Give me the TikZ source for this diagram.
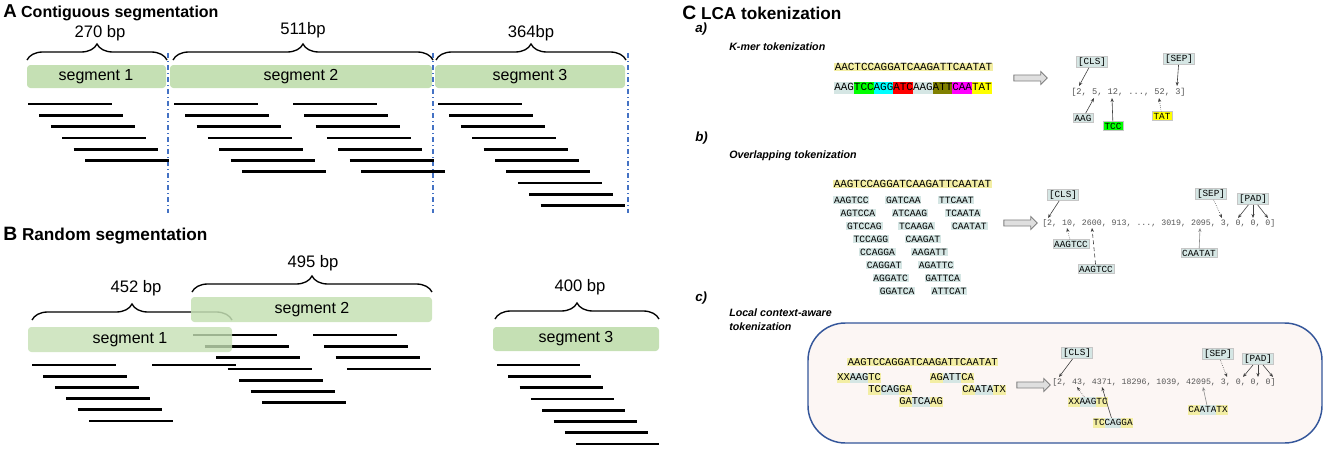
\documentclass[tikz,border=0pt]{standalone}
\usepackage{fontspec}
\setmainfont{Liberation Sans}
\setmonofont{Liberation Mono}
\usepackage{xcolor}
\usetikzlibrary{decorations.pathreplacing}
\usetikzlibrary{shapes.arrows}
\usetikzlibrary{arrows.meta}
\definecolor{seggreen}{HTML}{C5E0B4}
\definecolor{cutblue}{HTML}{4472C4}
\definecolor{tokgrey}{HTML}{D5E6E4}
\definecolor{seqyellow}{HTML}{F3EEA4}
\definecolor{kgreen}{HTML}{00FF00}
\definecolor{kcyan}{HTML}{00FFFF}
\definecolor{kred}{HTML}{FF0000}
\definecolor{kolive}{HTML}{808000}
\definecolor{kmagenta}{HTML}{FF00FF}
\definecolor{kyellow}{HTML}{FFFF00}
\definecolor{boxpink}{HTML}{FCF6F4}
\definecolor{boxblue}{HTML}{34569A}
\definecolor{numgrey}{HTML}{555555}
\newcommand{\hl}[2]{{\setlength{\fboxsep}{0pt}\colorbox{#1}{\rule[-0.27em]{0pt}{1.02em}#2}}}
\newcommand{\ctx}[3]{\hl{seqyellow}{#1}\hl{tokgrey}{#2}\hl{seqyellow}{#3}}
\tikzset{
 paneltitle/.style={font=\bfseries\fontsize{12}{14}\selectfont, anchor=west, inner sep=0pt},
 segbar/.style={fill=seggreen, rounded corners=2.5pt},
 seglabel/.style={font=\fontsize{12}{14}\selectfont},
 bplen/.style={font=\fontsize{12.5}{14}\selectfont},
 segbrace/.style={decorate, decoration={brace, amplitude=12pt}, line width=1pt},
 cutline/.style={cutblue, line width=1pt, dash pattern=on 4pt off 2pt on 1pt off 2pt},
 readline/.style={line width=2pt},
 sublabel/.style={font=\bfseries\itshape\fontsize{8}{10}\selectfont, anchor=west, inner sep=0pt},
 subletter/.style={font=\bfseries\itshape\fontsize{10}{12}\selectfont, anchor=west, inner sep=0pt},
 seqstrip/.style={font=\ttfamily\fontsize{8.2}{9}\selectfont, fill=seqyellow, inner sep=0.4pt, anchor=west},
 seqrow/.style={font=\ttfamily\fontsize{8.2}{9}\selectfont, inner sep=0pt, anchor=west},
 kmer/.style={font=\ttfamily\fontsize{7.2}{8}\selectfont, fill=tokgrey, inner sep=0.6pt, anchor=west},
 ctxtok/.style={font=\ttfamily\fontsize{7.8}{9}\selectfont, inner sep=0pt, anchor=west},
 tokbox/.style={font=\ttfamily\fontsize{7}{8}\selectfont, fill=tokgrey, draw=gray!45, line width=0.3pt, inner sep=1pt},
 ctxbox/.style={font=\ttfamily\fontsize{7}{8}\selectfont, inner sep=0pt},
 ids/.style={font=\ttfamily\fontsize{6.2}{8}\selectfont, text=numgrey, inner sep=0pt, anchor=west},
 toarrow/.style={single arrow, draw=gray, fill=gray!25, line width=0.6pt, minimum height=25pt, single arrow head extend=2.5pt, inner sep=2pt},
 ptr/.style={-{Stealth[length=3pt, width=2.4pt]}, line width=0.45pt, black!75},
 lcabox/.style={draw=boxblue, fill=boxpink, line width=1.1pt, rounded corners=28pt},
}

\begin{document}
\begin{tikzpicture}[x=0.75pt, y=-0.75pt]
\useasboundingbox (0, 0) rectangle (1325, 450);

% A: contiguous segmentation
\node [paneltitle] (titleA) at (3, 13) {{\fontsize{14}{14}\selectfont A} Contiguous segmentation};
\draw [segbrace] (27, 60) -- (167, 60);
\draw [segbrace] (173, 60) -- (433, 60);
\draw [segbrace] (436, 60) -- (626, 60);
\node [bplen] (lenA1) at (100, 33) {270 bp};
\node [bplen] (lenA2) at (303, 30) {511bp};
\node [bplen] (lenA3) at (531, 33) {364bp};
\path [segbar] (27, 65) rectangle (166, 88);
\path [segbar] (170, 65) rectangle (432, 88);
\path [segbar] (435, 65) rectangle (625, 88);
\node [seglabel] (segA1) at (96, 76.5) {segment 1};
\node [seglabel] (segA2) at (301, 76.5) {segment 2};
\node [seglabel] (segA3) at (530, 76.5) {segment 3};
\draw [cutline] (168, 53) -- (168, 213);
\draw [cutline] (433, 53) -- (433, 213);
\draw [cutline] (628, 53) -- (628, 213);
\foreach \i in {0,...,5}
    \draw [readline] ({28 + 11.4*\i}, {104 + 11.3*\i}) -- ++(84, 0);
\foreach \i in {0,...,6} {
    \draw [readline] ({174 + 11.3*\i}, {104 + 11.3*\i}) -- ++(84, 0);
    \draw [readline] ({293 + 11.3*\i}, {104 + 11.3*\i}) -- ++(84, 0);
}
\foreach \i in {0,...,9}
    \draw [readline] ({438 + 11.4*\i}, {104 + 11.3*\i}) -- ++(84, 0);

% B: random segmentation
\node [paneltitle, font=\bfseries\fontsize{12.9}{14}\selectfont] (titleB) at (3, 236) {{\fontsize{14.5}{14}\selectfont B} Random segmentation};
\draw [segbrace] (32, 320) -- (232, 320);
\draw [segbrace] (192, 292) -- (432, 292);
\draw [segbrace] (495, 319) -- (659, 319);
\node [bplen] (lenB1) at (136, 288) {452 bp};
\node [bplen] (lenB2) at (313, 263) {495 bp};
\node [bplen] (lenB3) at (580, 287) {400 bp};
\path [segbar, fill opacity=0.85] (191, 297) rectangle (432, 322);
\foreach \i in {0,...,5}
    \draw [readline] ({32 + 11.4*\i}, {365 + 11.2*\i}) -- ++(84, 0);
\draw [readline] (152, 365) -- (236, 365);
\foreach \i in {0,...,6}
    \draw [readline] ({193 + 11.5*\i}, {335 + 11.3*\i}) -- ++(84, 0);
\foreach \i in {0,...,3}
    \draw [readline] ({313 + 11.3*\i}, {335 + 11.3*\i}) -- ++(84, 0);
\foreach \i in {0,...,7}
    \draw [readline] ({497 + 11.3*\i}, {365 + 11.3*\i}) -- ++(83, 0);
\path [segbar, fill opacity=0.8] (28, 327) rectangle (232, 352);
\path [segbar] (493, 327) rectangle (659, 351);
\node [seglabel] (segB1) at (130, 339.5) {segment 1};
\node [seglabel] (segB2) at (312, 309.5) {segment 2};
\node [seglabel] (segB3) at (576, 339) {segment 3};

% C: LCA tokenization
\node [paneltitle, font=\bfseries\fontsize{12.9}{14}\selectfont] (titleC) at (682, 13) {{\fontsize{14.5}{14}\selectfont C} LCA tokenization};

% a) k-mer
\node [subletter] (labA) at (695, 29) {a)};
\node [sublabel] (subA) at (729, 47) {K-mer tokenization};
\node [seqstrip] (seqA) at (834, 67) {AACTCCAGGATCAAGATTCAATAT};
\node [seqrow] (kmerA) at (834, 88) {\hl{tokgrey}{AAG}\hl{kgreen}{TCC}\hl{kcyan}{AGG}\hl{kred}{ATC}\hl{tokgrey}{AAG}\hl{kolive}{ATT}\hl{kmagenta}{CAA}\hl{kyellow}{TAT}};
\node [toarrow] (arrA) at (1029, 78) {};
\node [ids, font=\ttfamily\fontsize{6.5}{8}\selectfont] (idsA) at (1071, 92) {[2, 5, 12, ..., 52, 3]};
\node [tokbox] (clsA) at (1092, 62) {[CLS]};
\node [tokbox] (sepA) at (1179, 59) {[SEP]};
\node [tokbox] (aagA) at (1083, 118) {AAG};
\node [tokbox, fill=kgreen] (tccA) at (1113, 126) {TCC};
\node [tokbox, fill=kyellow] (tatA) at (1162, 116) {TAT};
\coordinate (pA2) at (1079, 86);
\coordinate (pA3) at (1177, 86);
\coordinate (pA5) at (1094, 98);
\coordinate (pA12) at (1112, 98);
\coordinate (pA52) at (1159, 98);
\draw [ptr] (clsA) -- (pA2);
\draw [ptr] (sepA) -- (pA3);
\draw [ptr] (aagA) -- (pA5);
\draw [ptr] (tccA) -- (pA12);
\draw [ptr, densely dotted] (tatA) -- (pA52);

% b) overlapping
\node [subletter] (labB) at (695, 138) {b)};
\node [sublabel] (subB) at (729, 156) {Overlapping tokenization};
\node [seqstrip] (seqB) at (833, 184) {AAGTCCAGGATCAAGATTCAATAT};
\foreach \r/\ka/\kb in {0/AAGTCC/GATCAA, 1/AGTCCA/ATCAAG, 2/GTCCAG/TCAAGA, 3/TCCAGG/CAAGAT, 4/CCAGGA/AAGATT, 5/CAGGAT/AGATTC, 6/AGGATC/GATTCA, 7/GGATCA/ATTCAT} {
    \node [kmer] (kmB1-\r) at ({833 + 6.54*\r}, {200 + 13*\r}) {\ka};
    \node [kmer] (kmB2-\r) at ({885 + 6.54*\r}, {200 + 13*\r}) {\kb};
}
\foreach \r/\kc in {0/TTCAAT, 1/TCAATA, 2/CAATAT}
    \node [kmer] (kmB3-\r) at ({938 + 6.54*\r}, {200 + 13*\r}) {\kc};
\node [toarrow] (arrB) at (1019, 223) {};
\node [ids] (idsB) at (1042, 223) {[2, 10, 2600, 913, ..., 3019, 2095, 3, 0, 0, 0]};
\node [tokbox] (clsB) at (1063, 195) {[CLS]};
\node [tokbox] (sepB) at (1211, 194) {[SEP]};
\node [tokbox] (padB) at (1253, 199) {[PAD]};
\node [tokbox] (aagB1) at (1071, 244) {AAGTCC};
\node [tokbox] (aagB2) at (1096, 269) {AAGTCC};
\node [tokbox] (caaB) at (1199, 253) {CAATAT};
\coordinate (pB2) at (1048, 218);
\coordinate (pB10) at (1067, 228);
\coordinate (pB2600) at (1092, 228);
\coordinate (pB2095) at (1200, 228);
\coordinate (pB3) at (1222, 218);
\coordinate (pB0a) at (1238, 218);
\coordinate (pB0b) at (1253, 218);
\coordinate (pB0c) at (1268, 218);
\draw [ptr] (clsB) -- (pB2);
\draw [ptr, densely dotted] (aagB1) -- (pB10);
\draw [ptr, densely dashed] (aagB2) -- (pB2600);
\draw [ptr, black!45] (caaB) -- (pB2095);
\draw [ptr, densely dotted] (sepB) -- (pB3);
\draw [ptr] (padB) -- (pB0a);
\draw [ptr] (padB) -- (pB0b);
\draw [ptr] (padB) -- (pB0c);

% c) local context-aware
\node [subletter] (labC) at (695, 298) {c)};
\node [sublabel] (subC1) at (729, 313) {Local context-aware};
\node [sublabel] (subC2) at (729, 327) {tokenization};
\draw [lcabox] (808, 323) rectangle (1322, 443);
\node [seqstrip, font=\ttfamily\fontsize{7.8}{9}\selectfont] (seqC) at (847, 362) {AAGTCCAGGATCAAGATTCAATAT};
\node [ctxtok] (tokC1) at (837, 378) {\ctx{XX}{AAG}{TC}};
\node [ctxtok] (tokC2) at (868, 390) {\ctx{TC}{CAG}{GA}};
\node [ctxtok] (tokC3) at (899, 402) {\ctx{GA}{TCA}{AG}};
\node [ctxtok] (tokC4) at (930, 378) {\ctx{AG}{ATT}{CA}};
\node [ctxtok] (tokC5) at (962, 390) {\ctx{CA}{ATA}{TX}};
\node [toarrow] (arrC) at (1032, 385) {};
\node [ids] (idsC) at (1052, 382) {[2, 43, 4371, 18296, 1039, 42095, 3, 0, 0, 0]};
\node [tokbox] (clsC) at (1077, 353) {[CLS]};
\node [tokbox] (sepC) at (1218, 354) {[SEP]};
\node [tokbox] (padC) at (1258, 359) {[PAD]};
\node [ctxbox] (xxC) at (1088, 402) {\ctx{XX}{AAG}{TC}};
\node [ctxbox] (tcC) at (1113, 423) {\ctx{TC}{CAG}{GA}};
\node [ctxbox] (caC) at (1208, 410) {\ctx{CA}{ATA}{TX}};
\coordinate (pC2) at (1059, 377);
\coordinate (pC43) at (1077, 387);
\coordinate (pC4371) at (1102, 387);
\coordinate (pC42095) at (1203, 387);
\coordinate (pC3) at (1227, 377);
\coordinate (pC0a) at (1243, 377);
\coordinate (pC0b) at (1258, 377);
\coordinate (pC0c) at (1273, 377);
\draw [ptr] (clsC) -- (pC2);
\draw [ptr, densely dotted] (xxC) -- (pC43);
\draw [ptr] (tcC) -- (pC4371);
\draw [ptr, black!45] (caC) -- (pC42095);
\draw [ptr, densely dotted] (sepC) -- (pC3);
\draw [ptr] (padC) -- (pC0a);
\draw [ptr] (padC) -- (pC0b);
\draw [ptr] (padC) -- (pC0c);
\end{tikzpicture}
\end{document}
